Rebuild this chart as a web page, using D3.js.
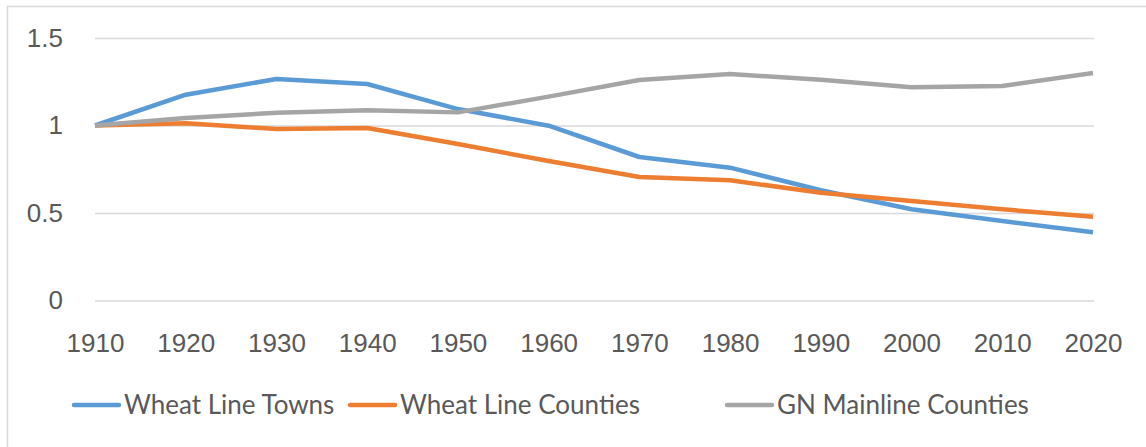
<!DOCTYPE html>
<html>
<head>
<meta charset="utf-8">
<script src="https://cdn.jsdelivr.net/npm/d3@7"></script>
<style>
  body { margin: 0; background: #fff; }
  svg { display: block; font-family: Lato, "Open Sans", sans-serif; }
</style>
</head>
<body>
<div id="chart"></div>
<script>
// decades on the category axis
const years = [1910, 1920, 1930, 1940, 1950, 1960, 1970, 1980, 1990, 2000, 2010, 2020];
const wheatLineTowns = [1.0, 1.176, 1.266, 1.237, 1.094, 0.999, 0.82, 0.759, 0.63, 0.521, 0.454, 0.39];
const wheatLineCounties = [1.0, 1.013, 0.98, 0.986, 0.894, 0.797, 0.706, 0.687, 0.616, 0.569, 0.521, 0.479];
const gnMainlineCounties = [1.0, 1.043, 1.073, 1.087, 1.075, 1.165, 1.26, 1.294, 1.262, 1.218, 1.226, 1.3];
const seriesNames = ["Wheat Line Towns", "Wheat Line Counties", "GN Mainline Counties"];
const yTicks = [0, 0.5, 1, 1.5];

const W = 1146, H = 447;
const colors = ["#5B9BD5", "#ED7D31", "#A5A5A5"];
const series = [wheatLineTowns, wheatLineCounties, gnMainlineCounties].map((vals, i) => ({
  name: seriesNames[i],
  color: colors[i],
  values: vals.map((v, j) => ({year: years[j], v: v}))
}));

let svg = d3.select("#chart").append("svg")
  .attr("width", W)
  .attr("height", H);

// chart area border (only top and left visible in frame)
svg.append("rect")
  .attr("x", 7.5).attr("y", 6.5)
  .attr("width", W + 20).attr("height", H + 20)
  .attr("fill", "none")
  .attr("stroke", "#D9D9D9")
  .attr("stroke-width", 1.5);

let x = d3.scaleLinear()
  .domain([years[0], years[years.length - 1]])
  .range([95, 1093]);
let y = d3.scaleLinear()
  .domain([0, 1.5])
  .range([300.5, 38]);

// gridlines
let yAxis = d3.axisLeft(y)
  .tickValues(yTicks)
  .tickSize(-(1094 - 95))
  .tickPadding(30)
  .tickFormat(d => d);
svg.append("g")
  .attr("transform", "translate(95,0)")
  .call(yAxis)
  .call(g => {
    g.select(".domain").remove();
    g.selectAll(".tick line").attr("stroke", "#D9D9D9").attr("stroke-width", 1.5);
    g.selectAll(".tick text")
      .attr("fill", "#595959")
      .attr("font-size", "26px")
      .attr("x", -32);
  });

let xAxis = d3.axisBottom(x)
  .tickValues(years)
  .tickSize(0)
  .tickFormat(d => d);
svg.append("g")
  .attr("transform", "translate(0,300.5)")
  .call(xAxis)
  .call(g => {
    g.select(".domain").remove();
    g.selectAll(".tick text")
      .attr("fill", "#595959")
      .attr("font-size", "26px")
      .attr("dy", null)
      .attr("y", 51);
  });

let line = d3.line()
  .x(d => x(d.year))
  .y(d => y(d.v));

svg.append("g")
  .selectAll("path")
  .data(series)
  .join("path")
  .attr("d", d => line(d.values))
  .attr("fill", "none")
  .attr("stroke", d => d.color)
  .attr("stroke-width", 4.5)
  .attr("stroke-linejoin", "round");

// legend
const legendX = [72, 348, 725];
let legend = svg.append("g")
  .selectAll("g")
  .data(series)
  .join("g")
  .attr("transform", (d, i) => "translate(" + legendX[i] + ",405)");
legend.append("line")
  .attr("x1", 2).attr("x2", 47)
  .attr("stroke", d => d.color)
  .attr("stroke-width", 4.5)
  .attr("stroke-linecap", "round");
legend.append("text")
  .attr("x", 52)
  .attr("y", 9)
  .attr("fill", "#595959")
  .attr("font-size", "26px")
  .text(d => d.name);
</script>
</body>
</html>
